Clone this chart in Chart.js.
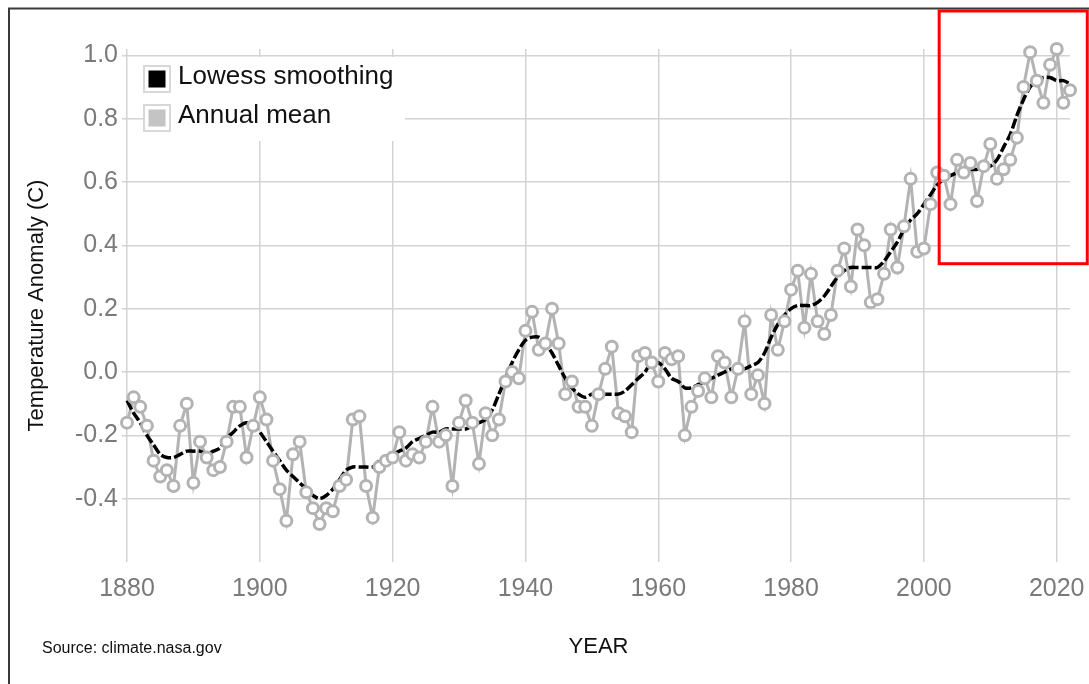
<!DOCTYPE html>
<html>
<head>
<meta charset="utf-8">
<script src="https://cdn.jsdelivr.net/npm/chart.js@4"></script>
<style>
  html, body { margin: 0; padding: 0; background: #ffffff; }
  #wrap { width: 1089px; height: 684px; position: relative; }
</style>
</head>
<body>
<div id="wrap"><canvas id="chart"></canvas></div>
<script>
// ---- data ----
const YEARS = [
  1880,1881,1882,1883,1884,1885,1886,1887,1888,1889,
  1890,1891,1892,1893,1894,1895,1896,1897,1898,1899,
  1900,1901,1902,1903,1904,1905,1906,1907,1908,1909,
  1910,1911,1912,1913,1914,1915,1916,1917,1918,1919,
  1920,1921,1922,1923,1924,1925,1926,1927,1928,1929,
  1930,1931,1932,1933,1934,1935,1936,1937,1938,1939,
  1940,1941,1942,1943,1944,1945,1946,1947,1948,1949,
  1950,1951,1952,1953,1954,1955,1956,1957,1958,1959,
  1960,1961,1962,1963,1964,1965,1966,1967,1968,1969,
  1970,1971,1972,1973,1974,1975,1976,1977,1978,1979,
  1980,1981,1982,1983,1984,1985,1986,1987,1988,1989,
  1990,1991,1992,1993,1994,1995,1996,1997,1998,1999,
  2000,2001,2002,2003,2004,2005,2006,2007,2008,2009,
  2010,2011,2012,2013,2014,2015,2016,2017,2018,2019,
  2020,2021,2022
];

const ANNUAL_MEAN = [
  -0.16,-0.08,-0.11,-0.17,-0.28,-0.33,-0.31,-0.36,-0.17,-0.10,
  -0.35,-0.22,-0.27,-0.31,-0.30,-0.22,-0.11,-0.11,-0.27,-0.17,
  -0.08,-0.15,-0.28,-0.37,-0.47,-0.26,-0.22,-0.38,-0.43,-0.48,
  -0.43,-0.44,-0.36,-0.34,-0.15,-0.14,-0.36,-0.46,-0.30,-0.28,
  -0.27,-0.19,-0.28,-0.26,-0.27,-0.22,-0.11,-0.22,-0.20,-0.36,
  -0.16,-0.09,-0.16,-0.29,-0.13,-0.20,-0.15,-0.03,0.00,-0.02,
  0.13,0.19,0.07,0.09,0.20,0.09,-0.07,-0.03,-0.11,-0.11,
  -0.17,-0.07,0.01,0.08,-0.13,-0.14,-0.19,0.05,0.06,0.03,
  -0.03,0.06,0.04,0.05,-0.20,-0.11,-0.06,-0.02,-0.08,0.05,
  0.03,-0.08,0.01,0.16,-0.07,-0.01,-0.10,0.18,0.07,0.16,
  0.26,0.32,0.14,0.31,0.16,0.12,0.18,0.32,0.39,0.27,
  0.45,0.40,0.22,0.23,0.31,0.45,0.33,0.46,0.61,0.38,
  0.39,0.53,0.63,0.62,0.53,0.67,0.63,0.66,0.54,0.65,
  0.72,0.61,0.64,0.67,0.74,0.90,1.01,0.92,0.85,0.97,
  1.02,0.85,0.89
];

const LOWESS = [
  -0.09,-0.13,-0.16,-0.20,-0.23,-0.26,-0.27,-0.27,-0.26,-0.25,
  -0.25,-0.25,-0.26,-0.25,-0.24,-0.21,-0.19,-0.17,-0.16,-0.17,
  -0.19,-0.22,-0.25,-0.28,-0.31,-0.33,-0.35,-0.37,-0.39,-0.40,
  -0.39,-0.37,-0.34,-0.31,-0.30,-0.30,-0.30,-0.30,-0.28,-0.27,
  -0.26,-0.25,-0.24,-0.22,-0.21,-0.20,-0.19,-0.19,-0.18,-0.18,
  -0.18,-0.18,-0.17,-0.16,-0.15,-0.12,-0.07,-0.02,0.03,0.07,
  0.10,0.11,0.11,0.09,0.06,0.02,-0.02,-0.05,-0.07,-0.08,
  -0.07,-0.07,-0.07,-0.07,-0.07,-0.06,-0.04,-0.02,0.00,0.03,
  0.03,0.01,-0.02,-0.03,-0.05,-0.05,-0.04,-0.03,-0.02,-0.01,
  0.00,0.01,0.01,0.01,0.02,0.03,0.06,0.11,0.15,0.18,
  0.20,0.21,0.21,0.21,0.22,0.24,0.27,0.30,0.32,0.33,
  0.33,0.33,0.33,0.33,0.35,0.38,0.41,0.45,0.48,0.50,
  0.53,0.56,0.59,0.61,0.62,0.63,0.64,0.64,0.64,0.65,
  0.65,0.67,0.71,0.75,0.81,0.86,0.90,0.92,0.93,0.93,
  0.92,0.92,0.91
];

const X_TICKS = [1880, 1900, 1920, 1940, 1960, 1980, 2000, 2020];
const Y_TICKS = [-0.4, -0.2, 0.0, 0.2, 0.4, 0.6, 0.8, 1.0];
const X_RANGE = [1880, 2022];
const Y_RANGE = [-0.6, 1.02];

const SERIES_LABELS = ['Lowess smoothing', 'Annual mean'];
const X_TITLE = 'YEAR';
const Y_TITLE = 'Temperature Anomaly (C)';
const SOURCE_TEXT = 'Source: climate.nasa.gov';

// highlighted region (red box annotation), in data units
const HIGHLIGHT = { x0: 2002.3, x1: 2024.6, y0: 0.342, y1: 1.14 };

// ---- styles ----
const FONT = "'Liberation Sans', Arial, sans-serif";
const GRAY = '#b3b3b3';
const GRID = '#d3d3d3';
const TICK_COLOR = '#7a7a7a';

const annualPts = YEARS.map((y, i) => ({ x: y, y: ANNUAL_MEAN[i] }));
const lowessPts = YEARS.map((y, i) => ({ x: y, y: LOWESS[i] }));

const decorPlugin = {
  id: 'decor',
  afterDraw(chart) {
    const ctx = chart.ctx;
    const xs = chart.scales.x, ys = chart.scales.y;
    ctx.save();

    // outer frame (left + top visible)
    ctx.strokeStyle = '#3a3a3a';
    ctx.lineWidth = 2;
    ctx.beginPath();
    ctx.moveTo(9, chart.height + 5);
    ctx.lineTo(9, 8.5);
    ctx.lineTo(chart.width + 5, 8.5);
    ctx.stroke();

    // legend box
    ctx.fillStyle = '#ffffff';
    ctx.fillRect(143, 57, 262, 84);
    const items = [
      { label: SERIES_LABELS[0], fill: '#000000', top: 66 },
      { label: SERIES_LABELS[1], fill: '#c4c4c4', top: 105 }
    ];
    ctx.font = '26px ' + FONT;
    ctx.textBaseline = 'alphabetic';
    ctx.textAlign = 'left';
    items.forEach(it => {
      ctx.strokeStyle = '#d8d8d8';
      ctx.lineWidth = 2;
      ctx.strokeRect(144, it.top, 26, 26);
      ctx.fillStyle = it.fill;
      ctx.fillRect(148.5, it.top + 4.5, 17, 17);
      ctx.fillStyle = '#111111';
      ctx.fillText(it.label, 178, it.top + 18);
    });

    // source note
    ctx.font = '16px ' + FONT;
    ctx.fillStyle = '#111111';
    ctx.fillText(SOURCE_TEXT, 42, 653);

    // red highlight box
    const l = xs.getPixelForValue(HIGHLIGHT.x0);
    const r = xs.getPixelForValue(HIGHLIGHT.x1);
    const t = ys.getPixelForValue(HIGHLIGHT.y1);
    const b = ys.getPixelForValue(HIGHLIGHT.y0);
    ctx.strokeStyle = '#ff0000';
    ctx.lineWidth = 3;
    ctx.strokeRect(l, t, r - l, b - t);

    ctx.restore();
  }
};

new Chart(document.getElementById('chart'), {
  type: 'line',
  data: {
    datasets: [
      {
        label: SERIES_LABELS[1],
        data: annualPts,
        borderColor: GRAY,
        borderWidth: 3,
        pointRadius: 0,
        tension: 0,
        clip: false,
        order: 2
      },
      {
        label: SERIES_LABELS[0],
        data: lowessPts,
        borderColor: '#000000',
        borderWidth: 3.5,
        borderDash: [10, 3],
        pointRadius: 0,
        tension: 0.3,
        clip: false,
        order: 1
      },
      {
        label: SERIES_LABELS[1] + ' points',
        data: annualPts,
        showLine: false,
        pointRadius: 5.5,
        pointBorderWidth: 3,
        pointBorderColor: GRAY,
        pointBackgroundColor: '#ffffff',
        clip: false,
        order: 0
      }
    ]
  },
  options: {
    responsive: true,
    maintainAspectRatio: false,
    animation: false,
    events: [],
    layout: { padding: { top: 49, right: 19, left: 0, bottom: 0 } },
    plugins: {
      legend: { display: false },
      tooltip: { enabled: false }
    },
    scales: {
      x: {
        type: 'linear',
        min: X_RANGE[0],
        max: X_RANGE[1],
        afterBuildTicks: s => { s.ticks = X_TICKS.map(v => ({ value: v })); },
        afterFit: s => { s.height = 122; s.paddingLeft = 0; s.paddingRight = 0; },
        border: { display: false },
        grid: { color: GRID, lineWidth: 1.5, drawTicks: false },
        ticks: {
          color: TICK_COLOR,
          font: { family: FONT, size: 25 },
          padding: 12,
          maxRotation: 0,
          callback: v => String(v)
        },
        title: {
          display: true,
          text: X_TITLE,
          color: '#111111',
          font: { family: FONT, size: 22 },
          padding: { top: 0, bottom: 24 }
        }
      },
      y: {
        type: 'linear',
        min: Y_RANGE[0],
        max: Y_RANGE[1],
        afterBuildTicks: s => { s.ticks = Y_TICKS.map(v => ({ value: v })); },
        afterFit: s => { s.width = 127; s.paddingTop = 0; s.paddingBottom = 0; },
        border: { display: false },
        grid: { color: GRID, lineWidth: 1.5, drawTicks: true, tickLength: 5 },
        ticks: {
          color: TICK_COLOR,
          font: { family: FONT, size: 25 },
          padding: 4,
          callback: v => Number(v).toFixed(1)
        },
        title: {
          display: true,
          text: Y_TITLE,
          color: '#111111',
          font: { family: FONT, size: 22 },
          padding: { top: 24, bottom: 0 }
        }
      }
    }
  },
  plugins: [decorPlugin]
});
</script>
</body>
</html>
